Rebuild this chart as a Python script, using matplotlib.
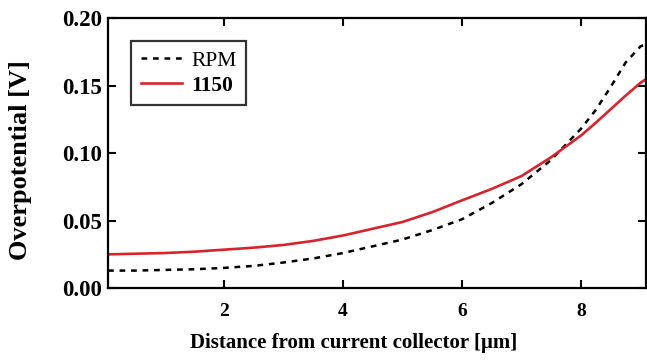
import matplotlib
matplotlib.use("Agg")
import matplotlib.pyplot as plt

plt.rcParams['font.family'] = ['Liberation Serif', 'DejaVu Serif']

# Distance from current collector [um]
distance = [0.05, 0.5, 1.0, 1.5, 2.0, 2.5, 3.0, 3.5, 4.0, 4.5, 5.0, 5.5,
            6.0, 6.5, 7.0, 7.5, 8.0, 8.25, 8.5, 8.75, 9.0, 9.1]
# Overpotential [V]
rpm = [0.013, 0.013, 0.0135, 0.014, 0.015, 0.0165, 0.019, 0.022, 0.026, 0.031,
       0.036, 0.043, 0.051, 0.063, 0.077, 0.095, 0.118, 0.132, 0.149, 0.167,
       0.179, 0.181]
s1150 = [0.025, 0.0255, 0.026, 0.027, 0.0285, 0.030, 0.032, 0.035, 0.039, 0.044,
         0.049, 0.0563, 0.065, 0.0735, 0.083, 0.097, 0.113, 0.1225, 0.1325,
         0.1425, 0.152, 0.155]

xticks = [2, 4, 6, 8]
yticks = [0.00, 0.05, 0.10, 0.15, 0.20]

fig = plt.figure(figsize=(6.47, 3.62), dpi=100)
ax = fig.add_axes([0.167, 0.204, 0.832, 0.746])

ax.plot(distance, rpm, color='black', lw=1.8, ls=(0, (2.3, 2.3)), label='RPM')
ax.plot(distance, s1150, color='#d8232c', lw=1.9, label='1150')

ax.set_xlim(0.05, 9.1)
ax.set_ylim(0.0, 0.20)
ax.set_xticks(xticks)
ax.set_yticks(yticks)
ax.set_yticklabels([f"{v:.2f}" for v in yticks])
ax.tick_params(direction='in', length=6, width=1.5, top=True, right=True)
ax.tick_params(axis='x', labelsize=14, pad=11)
ax.tick_params(axis='y', labelsize=16.5, pad=4)
for lbl in ax.get_xticklabels() + ax.get_yticklabels():
    lbl.set_fontweight('bold')
for sp in ax.spines.values():
    sp.set_linewidth(1.6)

ax.set_xlabel('Distance from current collector [μm]', fontsize=15,
              fontweight='bold', va='top')
ax.xaxis.set_label_coords(0.457, -0.165)
ax.set_ylabel('Overpotential [V]', fontsize=19, fontweight='bold',
              va='center')
ax.yaxis.set_label_coords(-0.162, 0.474)

leg = ax.legend(loc='upper left', bbox_to_anchor=(0.043, 0.915), fontsize=15.5,
                frameon=True, fancybox=False, edgecolor='black',
                handlelength=1.9, borderpad=0.45, labelspacing=0.22,
                handletextpad=0.45, borderaxespad=0.0)
leg.get_frame().set_linewidth(1.6)
texts = leg.get_texts()
texts[1].set_fontweight('bold')

fig.savefig('out.png', dpi=100)
